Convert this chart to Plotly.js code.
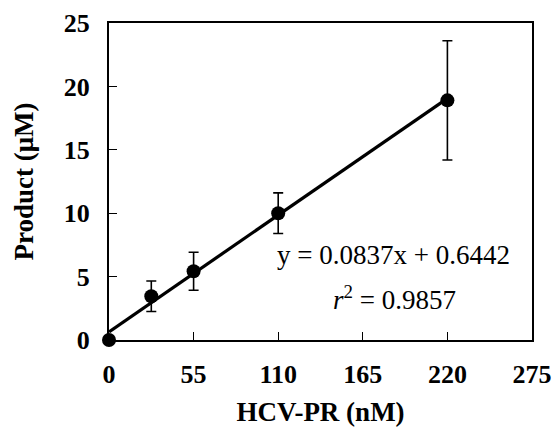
<!DOCTYPE html>
<html>
<head>
<meta charset="utf-8">
<script src="https://cdn.plot.ly/plotly-3.0.1.min.js"></script>
<style>html,body{margin:0;padding:0;background:#fff;}#chart{width:552px;height:431px;}</style>
</head>
<body>
<div id="chart"></div>
<script>
const concentration = [0, 27.5, 55, 110, 220];
const product = [0, 3.45, 5.42, 10.0, 18.9];
const productError = [0, 1.2, 1.5, 1.6, 4.7];
const fitSlope = 0.0837;
const fitIntercept = 0.6442;
const fitX = [0, 220];
const fitY = fitX.map(x => fitSlope * x + fitIntercept);
const xTicks = [0, 55, 110, 165, 220, 275];
const yTicks = [0, 5, 10, 15, 20, 25];
const equationText = 'y = 0.0837x + 0.6442';
const r2Text = '<i>r</i><sup>2</sup> = 0.9857';

const serif = '"Liberation Serif", "Times New Roman", serif';

const traces = [
  {
    x: fitX, y: fitY, mode: 'lines', type: 'scatter',
    line: {color: '#000', width: 3.2},
    hoverinfo: 'skip', cliponaxis: false
  },
  {
    x: concentration, y: product, mode: 'markers', type: 'scatter',
    marker: {color: '#000', size: 14},
    error_y: {type: 'data', array: productError, visible: true, color: '#000', thickness: 1.6, width: 5},
    cliponaxis: false
  }
];

const layout = {
  width: 552, height: 431,
  margin: {l: 109, r: 20, t: 23, b: 91},
  paper_bgcolor: '#fff', plot_bgcolor: '#fff',
  showlegend: false,
  font: {family: serif, color: '#000'},
  xaxis: {
    range: [0, 275], tickvals: xTicks, ticktext: xTicks.map(String),
    ticks: 'inside', ticklen: 8, tickwidth: 1, tickcolor: '#000',
    showline: true, linecolor: '#000', linewidth: 2, mirror: true,
    showgrid: false, zeroline: false,
    tickfont: {family: serif, size: 26, color: '#000', weight: 'bold'},
    ticklabelstandoff: 10,
    title: {text: '<b>HCV-PR (nM)</b>', font: {family: serif, size: 27, color: '#000'}, standoff: 14}
  },
  yaxis: {
    range: [0, 25], tickvals: yTicks, ticktext: yTicks.map(String),
    ticks: 'inside', ticklen: 8, tickwidth: 1, tickcolor: '#000',
    showline: true, linecolor: '#000', linewidth: 2, mirror: true,
    showgrid: false, zeroline: false,
    tickfont: {family: serif, size: 26, color: '#000', weight: 'bold'},
    ticklabelstandoff: 12,
    title: {text: '<b>Product (μM)</b>', font: {family: serif, size: 27, color: '#000'}, standoff: 22}
  },
  annotations: [
    {x: 0.672, y: 0.267, xref: 'paper', yref: 'paper', text: equationText, showarrow: false,
     font: {family: serif, size: 27, color: '#000'}, xanchor: 'center', yanchor: 'middle'},
    {x: 0.674, y: 0.133, xref: 'paper', yref: 'paper', text: r2Text, showarrow: false,
     font: {family: serif, size: 27, color: '#000'}, xanchor: 'center', yanchor: 'middle'}
  ]
};

Plotly.newPlot('chart', traces, layout, {staticPlot: true, displayModeBar: false});
</script>
</body>
</html>
